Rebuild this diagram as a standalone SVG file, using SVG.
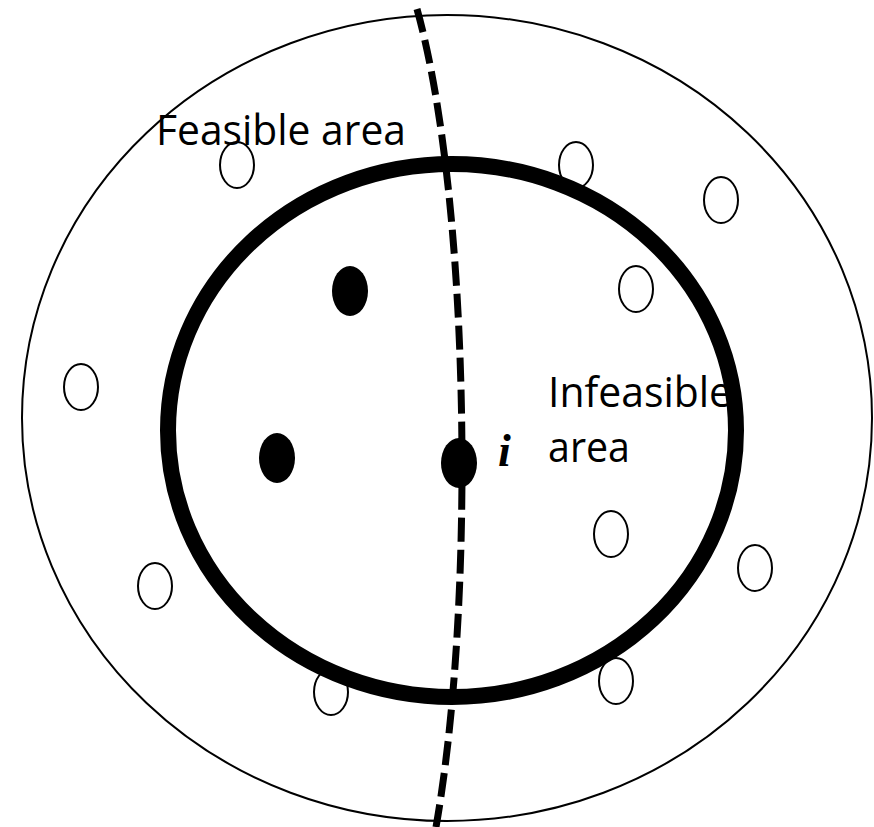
<svg xmlns="http://www.w3.org/2000/svg" width="874" height="827" viewBox="0 0 874 827">
<style>
.open{fill:#fff;stroke:#000;stroke-width:2}
.solid{fill:#000;stroke:none}
.lbl{font-family:"Open Sans","Liberation Sans",sans-serif;font-size:42px;fill:#000}
</style>
<rect width="874" height="827" fill="#fff"/>
<g id="outer-region">
<ellipse cx="447" cy="418" rx="425" ry="403" fill="none" stroke="#000" stroke-width="2"/>
</g>
<g id="open-points">
<ellipse class="open" cx="237" cy="165" rx="17" ry="23"/>
<ellipse class="open" cx="576" cy="165" rx="17" ry="23"/>
<ellipse class="open" cx="721" cy="200" rx="17" ry="23"/>
<ellipse class="open" cx="636" cy="289" rx="17" ry="23"/>
<ellipse class="open" cx="81" cy="387" rx="17" ry="23"/>
<ellipse class="open" cx="611" cy="534" rx="17" ry="23"/>
<ellipse class="open" cx="755" cy="568" rx="17" ry="23"/>
<ellipse class="open" cx="155" cy="586" rx="17" ry="23"/>
<ellipse class="open" cx="331" cy="692" rx="17" ry="23"/>
<ellipse class="open" cx="616" cy="681" rx="17" ry="23"/>
</g>
<g id="feasible-boundary">
<ellipse cx="452" cy="430.5" rx="284" ry="266.5" fill="none" stroke="#000" stroke-width="16"/>
</g>
<g id="connectors">
<path d="M417,9 C470,200 476,600 436,827" fill="none" stroke="#000" stroke-width="7" stroke-dasharray="24 8"/>
</g>
<g id="solid-points">
<ellipse class="solid" cx="350" cy="291" rx="18" ry="25"/>
<ellipse class="solid" cx="277" cy="458" rx="18" ry="25"/>
<ellipse class="solid" cx="459" cy="463" rx="18" ry="25"/>
</g>
<g id="labels">
<text class="lbl" x="156" y="145" textLength="250" lengthAdjust="spacingAndGlyphs">Feasible area</text>
<text class="lbl" x="548" y="407" textLength="184" lengthAdjust="spacingAndGlyphs">Infeasible</text>
<text class="lbl" x="548" y="462" textLength="82" lengthAdjust="spacingAndGlyphs">area</text>
<text x="498" y="466" font-family="Liberation Serif,serif" font-style="italic" font-weight="bold" font-size="46px">i</text>
</g>
</svg>
